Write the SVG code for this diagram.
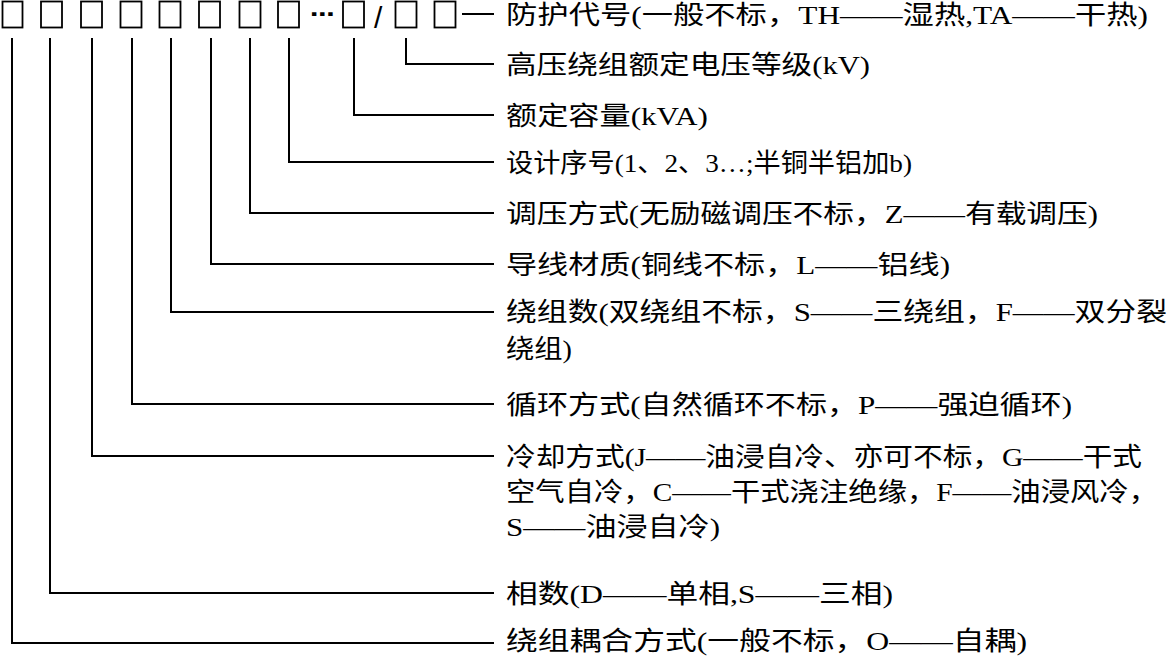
<svg xmlns="http://www.w3.org/2000/svg" width="1170" height="656" viewBox="0 0 1170 656">
<style>
.t{font-family:'Liberation Serif','Noto Sans CJK SC',serif;font-size:26px;fill:#000}
.b{fill:none;stroke:#000;stroke-width:1.8}
.c{fill:none;stroke:#000;stroke-width:2}
</style>
<rect width="1170" height="656" fill="#fff"/>
<g id="code">
<rect class="b" x="2.5" y="1.5" width="20" height="26"/>
<rect class="b" x="41" y="1.5" width="21" height="26"/>
<rect class="b" x="81" y="1.5" width="21" height="26"/>
<rect class="b" x="120.5" y="1.5" width="21" height="26"/>
<rect class="b" x="159.5" y="1.5" width="21" height="26"/>
<rect class="b" x="199" y="1.5" width="21" height="26"/>
<rect class="b" x="239.5" y="1.5" width="21" height="26"/>
<rect class="b" x="278" y="1.5" width="21" height="26"/>
<text x="310" y="21" font-family="'DejaVu Sans',sans-serif" font-size="20" font-weight="bold" textLength="25" lengthAdjust="spacingAndGlyphs">⋯</text>
<rect class="b" x="343" y="1.5" width="21" height="26"/>
<text x="374" y="28" font-family="'Liberation Sans',sans-serif" font-size="30">/</text>
<rect class="b" x="395.5" y="1.5" width="21" height="26"/>
<rect class="b" x="434.5" y="1.5" width="21" height="26"/>
</g>
<g id="connectors">
<path class="c" d="M462 14H494"/>
<path class="c" d="M406 38V64H494"/>
<path class="c" d="M354 38V115H494"/>
<path class="c" d="M289 38V162H494"/>
<path class="c" d="M250 38V213H494"/>
<path class="c" d="M211 38V264H494"/>
<path class="c" d="M171 38V312H494"/>
<path class="c" d="M132 38V404H494"/>
<path class="c" d="M92 38V456H494"/>
<path class="c" d="M50 38V593H494"/>
<path class="c" d="M12 38V643H494"/>
</g>
<g id="label-protection"><text class="t" x="506" y="24" textLength="642" lengthAdjust="spacingAndGlyphs">防护代号(一般不标，TH——湿热,TA——干热)</text></g>
<g id="label-voltage"><text class="t" x="506" y="74" textLength="364" lengthAdjust="spacingAndGlyphs">高压绕组额定电压等级(kV)</text></g>
<g id="label-capacity"><text class="t" x="506" y="125" textLength="202" lengthAdjust="spacingAndGlyphs">额定容量(kVA)</text></g>
<g id="label-design"><text class="t" x="506" y="172" textLength="406" lengthAdjust="spacingAndGlyphs">设计序号(1、2、3…;半铜半铝加b)</text></g>
<g id="label-regulation"><text class="t" x="506" y="223" textLength="592" lengthAdjust="spacingAndGlyphs">调压方式(无励磁调压不标，Z——有载调压)</text></g>
<g id="label-conductor"><text class="t" x="506" y="274" textLength="444" lengthAdjust="spacingAndGlyphs">导线材质(铜线不标，L——铝线)</text></g>
<g id="label-windings">
<text class="t" x="506" y="321" textLength="661" lengthAdjust="spacingAndGlyphs">绕组数(双绕组不标，S——三绕组，F——双分裂</text>
<text class="t" x="506" y="358" textLength="66" lengthAdjust="spacingAndGlyphs">绕组)</text>
</g>
<g id="label-circulation"><text class="t" x="506" y="414" textLength="566" lengthAdjust="spacingAndGlyphs">循环方式(自然循环不标，P——强迫循环)</text></g>
<g id="label-cooling">
<text class="t" x="506" y="466" textLength="636" lengthAdjust="spacingAndGlyphs">冷却方式(J——油浸自冷、亦可不标，G——干式</text>
<text class="t" x="506" y="501" textLength="652" lengthAdjust="spacingAndGlyphs">空气自冷，C——干式浇注绝缘，F——油浸风冷，</text>
<text class="t" x="506" y="536" textLength="214" lengthAdjust="spacingAndGlyphs">S——油浸自冷)</text>
</g>
<g id="label-phase"><text class="t" x="506" y="603" textLength="387" lengthAdjust="spacingAndGlyphs">相数(D——单相,S——三相)</text></g>
<g id="label-coupling"><text class="t" x="506" y="650" font-size="25" textLength="521" lengthAdjust="spacingAndGlyphs">绕组耦合方式(一般不标，O——自耦)</text></g>
</svg>
